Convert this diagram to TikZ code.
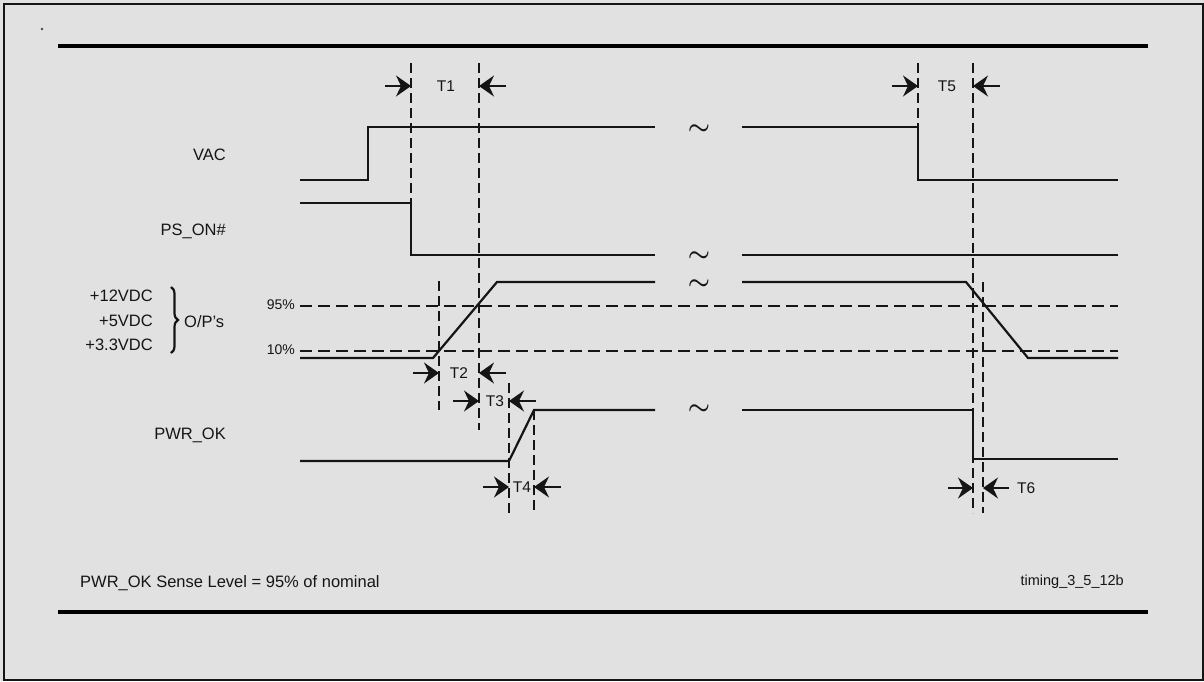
\documentclass[tikz,border=0pt]{standalone}
\usepackage{fontspec}
\setmainfont{Liberation Sans}
\usetikzlibrary{arrows.meta,positioning,calc,decorations.pathreplacing}
\definecolor{paper}{HTML}{E1E1E1}
\definecolor{ink}{HTML}{151515}
\tikzset{
  wave/.style={draw=ink,line width=2.2pt},
  guide/.style={draw=ink,line width=1.9pt,dash pattern=on 10pt off 5pt},
  level/.style={draw=ink,line width=1.9pt,dash pattern=on 12pt off 6pt},
  rulebar/.style={draw=black,line width=4.5pt},
  tick/.style={-{Stealth[length=15pt,width=21pt,inset=5pt]},line width=1.6pt,draw=ink},
  sig/.style={anchor=east,font=\fontsize{16.5}{18}\selectfont,text=ink,inner sep=0pt},
  tname/.style={font=\fontsize{15.5}{17}\selectfont,text=ink,inner sep=0pt},
  pct/.style={anchor=east,font=\fontsize{14}{16}\selectfont,text=ink,inner sep=0pt},
  brk/.style={font=\fontsize{30}{30}\selectfont\boldmath,text=ink,inner sep=0pt}
}

\begin{document}
\begin{tikzpicture}[x=1pt,y=-1pt]
    \useasboundingbox (0,0) rectangle (1204,681);
    \fill[paper] (0,0) rectangle (1204,681);
    \draw[line width=2pt,draw=ink] (4,4) rectangle (1203,680);
    \fill[ink!80] (42,29) circle (1.3);
    \draw[rulebar] (58,46) -- (1148,46);
    \draw[rulebar] (58,612) -- (1148,612);

    % signal names
    \node[sig] (vac) at (226,155) {VAC};
    \node[sig] (pson) at (226,231) {PS\_ON\#};
    \node[sig] (v12) at (153,296) {+12VDC};
    \node[sig] (v5) at (153,321) {+5VDC};
    \node[sig] (v33) at (153,345) {+3.3VDC};
    \node[sig,anchor=west] (ops) at (184,322) {O/P's};
    \node[sig] (pwrok) at (226,435) {PWR\_OK};
    \draw[draw=ink,line width=2.2pt,decorate,decoration={brace,amplitude=7pt}]
      (171,287) -- (171,353);
    \node[pct] (p95) at (295,305) {95\%};
    \node[pct] (p10) at (295,350) {10\%};

    % levels
    \draw[level] (300,306) -- (1118,306);
    \draw[level] (300,351) -- (1118,351);

    % waveforms
    \draw[wave] (300,180) -- (368,180) -- (368,127) -- (655,127);
    \draw[wave] (742,127) -- (918,127) -- (918,180) -- (1118,180);
    \draw[wave] (300,203) -- (411,203) -- (411,255) -- (655,255);
    \draw[wave] (742,255) -- (1118,255);
    \draw[wave] (300,358) -- (433,358) -- (497,282) -- (655,282);
    \draw[wave] (742,282) -- (966,282) -- (1028,358) -- (1118,358);
    \draw[wave] (300,461) -- (509,461) -- (534,410) -- (655,410);
    \draw[wave] (742,410) -- (973,410) -- (973,459) -- (1118,459);
    \node[brk] (gap1) at (699,130) {$\sim$};
    \node[brk] (gap2) at (699,257) {$\sim$};
    \node[brk] (gap3) at (699,285) {$\sim$};
    \node[brk] (gap4) at (699,410) {$\sim$};

    % guides
    \draw[guide] (411,63) -- (411,203);
    \draw[guide] (479,63) -- (479,430);
    \draw[guide] (439,281) -- (439,410);
    \draw[guide] (509,383) -- (509,513);
    \draw[guide] (534,410) -- (534,513);
    \draw[guide] (918,63) -- (918,127);
    \draw[guide] (973,63) -- (973,513);
    \draw[guide] (983,282) -- (983,513);

    % timing marks
    \foreach \n/\xa/\xb/\y/\lx in {T1/411/479/86/446, T2/439/479/373/459, T3/479/509/401/495,
                                  T4/509/534/487/522, T5/918/973/86/947}{
      \coordinate (\n l) at (\xa,\y);
      \coordinate (\n r) at (\xb,\y);
      \draw[tick] ($(\n l)+(-26,0)$) -- (\n l);
      \draw[tick] ($(\n r)+(27,0)$) -- (\n r);
      \node[tname] (\n) at (\lx,\y) {\n};
    }
    \coordinate (T6l) at (973,488);
    \coordinate (T6r) at (983,488);
    \draw[tick] ($(T6l)+(-25,0)$) -- (T6l);
    \draw[tick] ($(T6r)+(26,0)$) -- (T6r);
    \node[tname,anchor=west] (T6) at (1017,488) {T6};

    % notes
    \node[font=\fontsize{16.5}{18}\selectfont,text=ink,anchor=west,inner sep=0pt] (note) at (80,583) {PWR\_OK Sense Level = 95\% of nominal};
    \node[font=\fontsize{14.5}{16}\selectfont,text=ink,anchor=east,inner sep=0pt] (tag) at (1124,582) {timing\_3\_5\_12b};
  \end{tikzpicture}
\end{document}
